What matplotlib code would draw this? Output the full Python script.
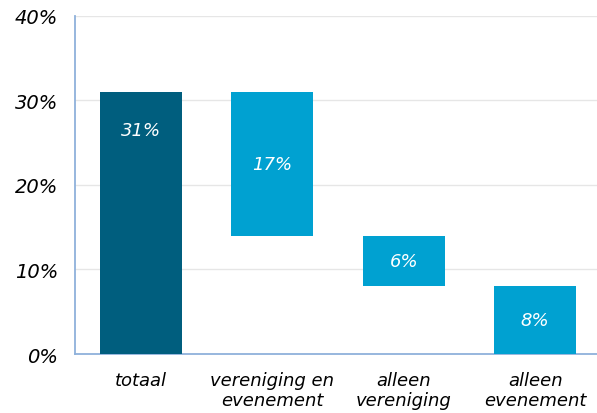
import matplotlib.pyplot as plt
from matplotlib.ticker import FuncFormatter

# waterfall data (percent)
categories = ['totaal', 'vereniging en\nevenement', 'alleen\nvereniging', 'alleen\nevenement']
values = [31, 17, 6, 8]
bottoms = [0, 14, 8, 0]
label_pos = [26.5, 22.5, 11, 4]
colors = ['#005E7E', '#00A1D1', '#00A1D1', '#00A1D1']

fig = plt.figure(figsize=(5.97, 4.14), dpi=100)
ax = fig.add_axes([0.1256, 0.1425, 0.8744, 0.8165])

x = range(len(categories))
ax.bar(x, values, bottom=bottoms, width=0.625, color=colors, zorder=3)

for i in x:
    ax.text(i, label_pos[i], '%d%%' % values[i], ha='center', va='center',
            color='white', fontsize=13, style='italic', zorder=4)

ax.set_ylim(0, 40)
ax.set_xlim(-0.5, 3.47)
ax.set_yticks([0, 10, 20, 30, 40])
ax.yaxis.set_major_formatter(FuncFormatter(lambda v, p: '%d%%' % v))
ax.set_xticks(list(x))
ax.set_xticklabels(categories, style='italic', fontsize=13, linespacing=1.15)
for lbl in ax.get_yticklabels():
    lbl.set_style('italic')
    lbl.set_fontsize(14)

ax.grid(axis='y', color='#E6E6E6', linewidth=1, zorder=0)
ax.tick_params(length=0, pad=12)
ax.tick_params(axis='x', pad=12)
for s in ['top', 'right']:
    ax.spines[s].set_visible(False)
for s in ['left', 'bottom']:
    ax.spines[s].set_color('#8FB1DB')
    ax.spines[s].set_linewidth(1.3)

fig.savefig('out.png', dpi=100)
